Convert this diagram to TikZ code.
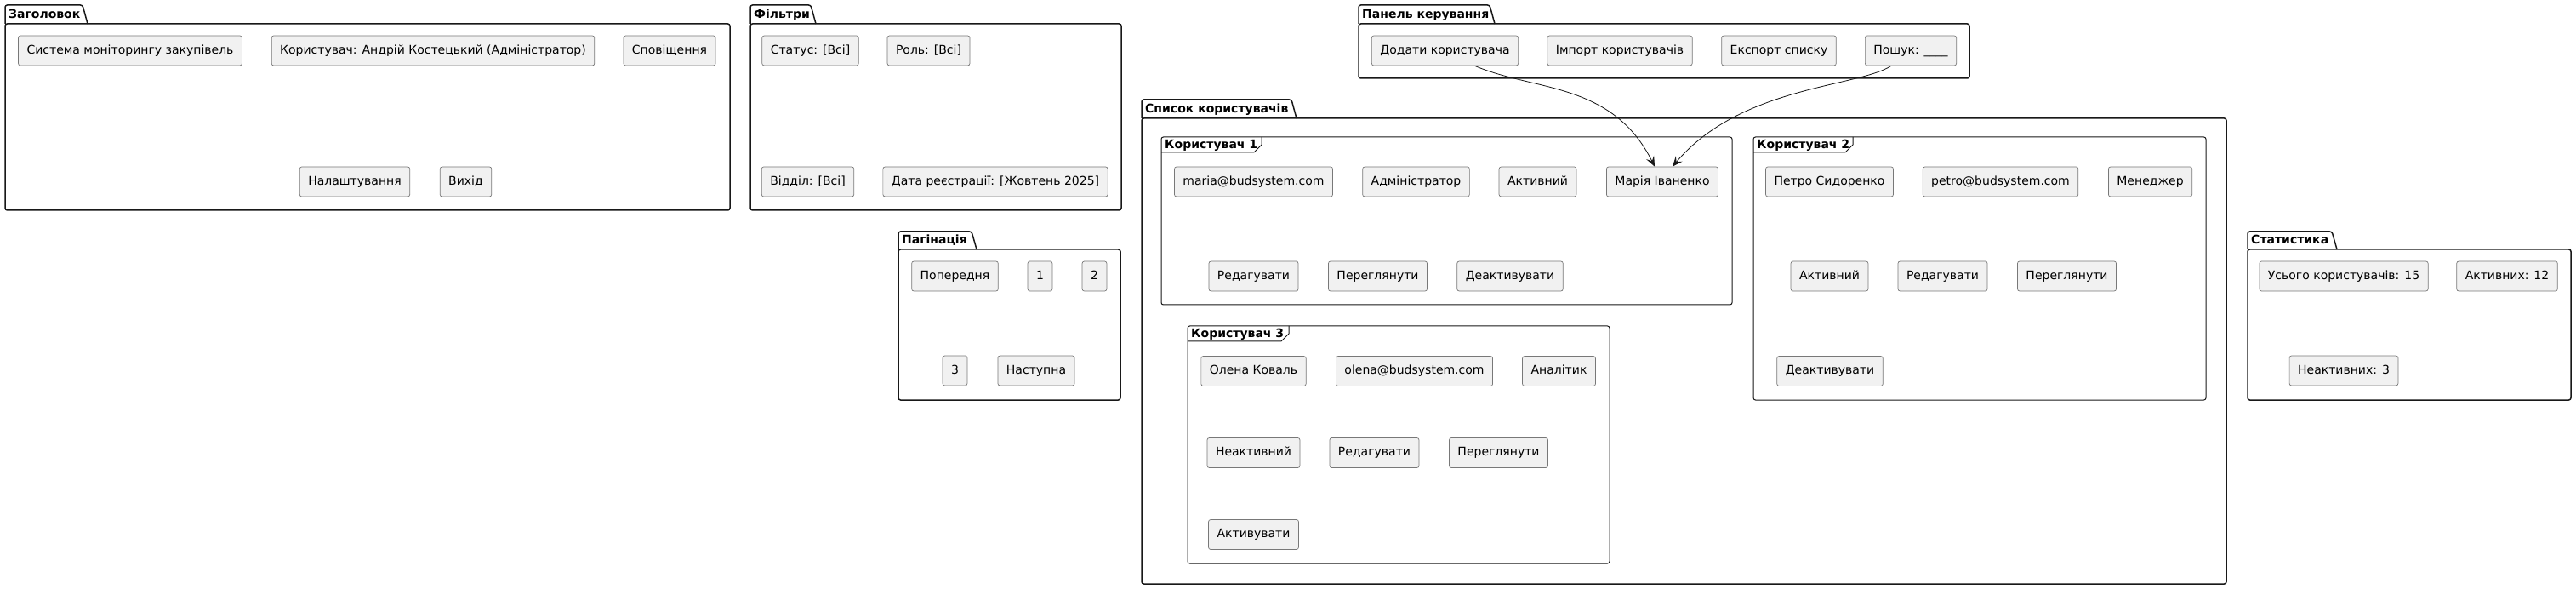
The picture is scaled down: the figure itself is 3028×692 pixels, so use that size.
\documentclass[tikz,border=0pt]{standalone}
\usepackage{fontspec}
\setmainfont{DejaVu Sans}
\usepackage{tikz}
\usetikzlibrary{arrows.meta}
\definecolor{boxfill}{RGB}{241,241,241}
\definecolor{boxline}{RGB}{120,120,120}
\definecolor{frameline}{RGB}{24,24,24}

\begin{document}
\begin{tikzpicture}[x=1pt, y=-1pt, every node/.style={font=\fontsize{14}{16}\selectfont}]
    \tikzset{uibox/.style={rectangle, rounded corners=2.5pt, draw=boxline, fill=boxfill,
                           line width=0.7pt, minimum height=35pt, inner xsep=10pt,
                           inner ysep=0pt, text height=10.5pt, text depth=3pt},
             pkgline/.style={draw=frameline, line width=1.5pt},
             frmline/.style={draw=frameline, line width=1pt},
             pkgtitle/.style={anchor=base west, inner sep=0pt,
                              font=\bfseries\fontsize{14}{16}\selectfont},
             link/.style={-{Stealth[length=12pt, width=10pt, inset=5pt]},
                          draw=frameline, line width=0.8pt}}
    \fill[white] (0,0) rectangle (3028,692);
    \useasboundingbox (0,0) rectangle (3028,692);

    % packages
    \foreach \nm/\xa/\xb/\yt/\ya/\yb/\tr/\ttl in {
        hdr/6/858/6/28/247/97/Заголовок,
        flt/882/1318/6/28/247/953/Фільтри,
        ctl/1597/2315/6/28/92/1751/Панель керування,
        pag/1056/1317/272/293/470/1142/Пагінація,
        lst/1342/2617/117/139/686/1518/Список користувачів,
        sta/2642/3022/272/293/470/2741/Статистика} {
      \draw[pkgline, rounded corners=2.5pt] (\xa,\ya) -- (\xa,\yt) -- (\tr,\yt) -- (\tr+6,\ya);
      \draw[pkgline, rounded corners=2.5pt] (\xa,\ya) rectangle (\xb,\yb);
      \node[pkgtitle] (\nm) at (\xa+4,\ya-6) {\ttl};
    }

    % user frames
    \foreach \nm/\xa/\xb/\ya/\yb/\tr/\ttl in {
        u1/1365/2036/161/358/1483/Користувач 1,
        u2/2061/2593/161/470/2178/Користувач 2,
        u3/1396/1892/383/662/1515/Користувач 3} {
      \draw[frmline, rounded corners=2.5pt] (\xa,\ya) rectangle (\xb,\yb);
      \draw[frmline] (\xa,\ya+18) -- (\tr-9,\ya+18) -- (\tr,\ya+9) -- (\tr,\ya);
      \node[pkgtitle] (\nm) at (\xa+4,\ya+14) {\ttl};
    }

    % header
    \node[uibox] (hsys)   at (153,59.5)   {Система моніторингу закупівель};
    \node[uibox] (huser)  at (509,59.5)   {Користувач: Андрій Костецький (Адміністратор)};
    \node[uibox] (hnotif) at (787,59.5)   {Сповіщення};
    \node[uibox] (hset)   at (417,213.5)  {Налаштування};
    \node[uibox] (hexit)  at (547.5,213.5) {Вихід};

    % filters
    \node[uibox] (fstat) at (952.5,59.5)  {Статус: [Всі]};
    \node[uibox] (frole) at (1091.5,59.5) {Роль: [Всі]};
    \node[uibox] (fdept) at (949.5,213.5) {Відділ: [Всі]};
    \node[uibox] (fdate) at (1170,213.5)  {Дата реєстрації: [Жовтень 2025]};

    % control panel
    \node[uibox] (cadd)  at (1698.5,59.5) {Додати користувача};
    \node[uibox] (cimp)  at (1904,59.5)   {Імпорт користувачів};
    \node[uibox] (cexp)  at (2091,59.5)   {Експорт списку};
    \node[uibox] (csrch) at (2246,59.5)   {Пошук: \_\_\_\_};

    % pagination
    \node[uibox] (pprev) at (1122.5,324.5) {Попередня};
    \node[uibox] (pone)  at (1222.5,324.5) {1};
    \node[uibox] (ptwo)  at (1286.5,324.5) {2};
    \node[uibox] (pthr)  at (1122.5,435.5) {3};
    \node[uibox] (pnext) at (1218,435.5)   {Наступна};

    % user 1
    \node[uibox] (u1mail)  at (1473.5,213.5) {maria@budsystem.com};
    \node[uibox] (u1role)  at (1664.5,213.5) {Адміністратор};
    \node[uibox] (u1stat)  at (1807.5,213.5) {Активний};
    \node[uibox] (u1name)  at (1954,213.5)   {Марія Іваненко};
    \node[uibox] (u1edit)  at (1473.5,324.5) {Редагувати};
    \node[uibox] (u1view)  at (1619.5,324.5) {Переглянути};
    \node[uibox] (u1deact) at (1775,324.5)   {Деактивувати};

    % user 2
    \node[uibox] (u2name)  at (2150.5,213.5) {Петро Сидоренко};
    \node[uibox] (u2mail)  at (2351.5,213.5) {petro@budsystem.com};
    \node[uibox] (u2role)  at (2527.5,213.5) {Менеджер};
    \node[uibox] (u2stat)  at (2150.5,324.5) {Активний};
    \node[uibox] (u2edit)  at (2283.5,324.5) {Редагувати};
    \node[uibox] (u2view)  at (2429.5,324.5) {Переглянути};
    \node[uibox] (u2deact) at (2151,436)     {Деактивувати};

    % user 3
    \node[uibox] (u3name) at (1473.5,436) {Олена Коваль};
    \node[uibox] (u3mail) at (1662.5,436) {olena@budsystem.com};
    \node[uibox] (u3role) at (1832.5,436) {Аналітик};
    \node[uibox] (u3stat) at (1473.5,532) {Неактивний};
    \node[uibox] (u3edit) at (1615.5,532) {Редагувати};
    \node[uibox] (u3view) at (1761.5,532) {Переглянути};
    \node[uibox] (u3act)  at (1473.5,628) {Активувати};

    % statistics
    \node[uibox] (stot)   at (2755,324.5) {Усього користувачів: 15};
    \node[uibox] (sact)   at (2947,324.5) {Активних: 12};
    \node[uibox] (sinact) at (2755,435.5) {Неактивних: 3};

    \draw[link] ([xshift=35pt]cadd.south) .. controls +(70,30) and +(-50,-100) .. ([xshift=-9pt]u1name.north);
    \draw[link] ([xshift=-23pt]csrch.south) .. controls +(-38,25) and +(80,-95) .. ([xshift=12pt]u1name.north);
\end{tikzpicture}
\end{document}
